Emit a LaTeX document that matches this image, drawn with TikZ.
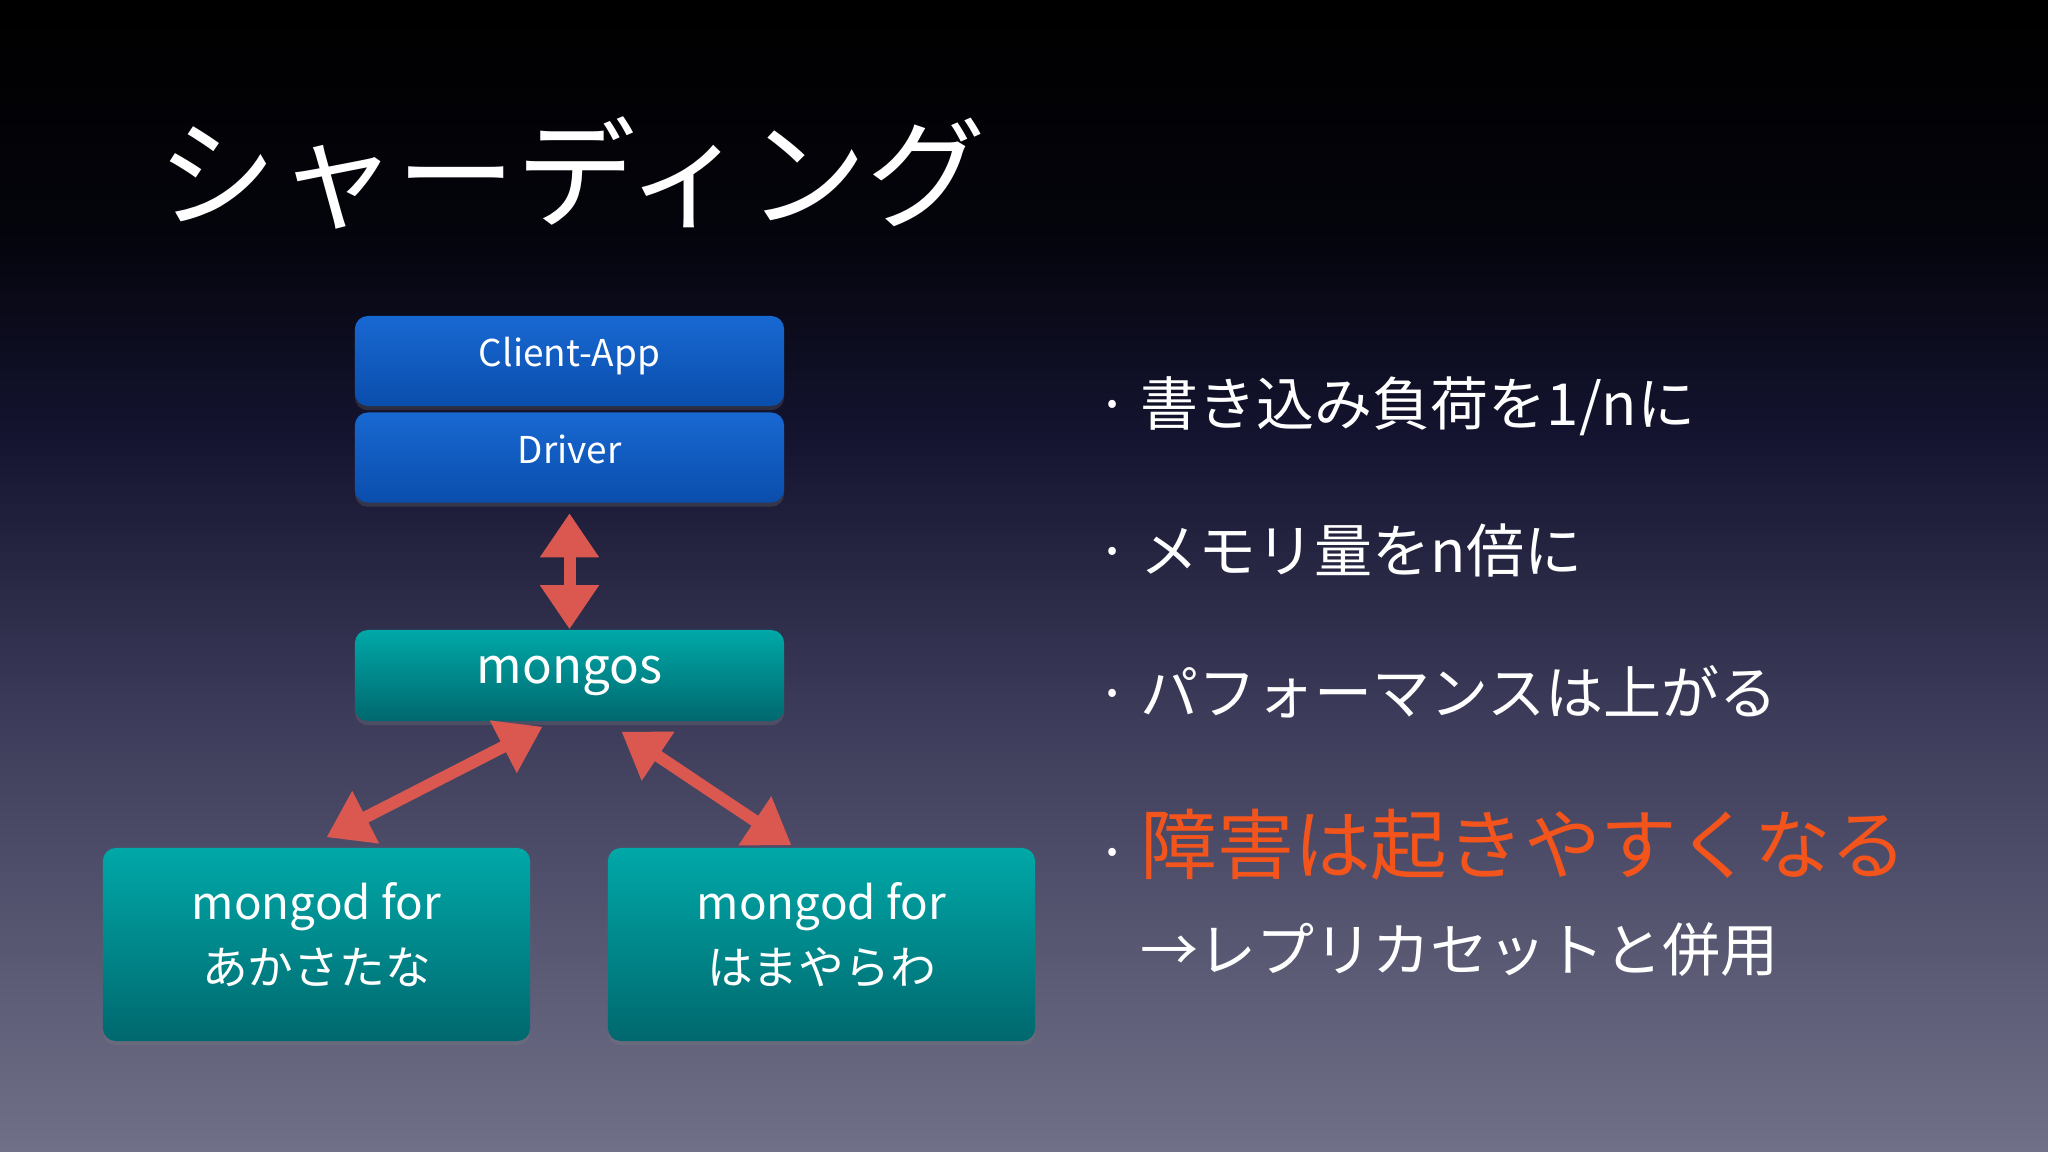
\documentclass[tikz,border=0pt]{standalone}
\usepackage{fontspec}
\setmainfont{Noto Sans CJK JP}
\usepackage{tikz}
\usetikzlibrary{arrows.meta, shadows}

\definecolor{bgbot}{RGB}{112,112,136}
\definecolor{bgmid}{RGB}{60,60,90}
\definecolor{bgnavy}{RGB}{20,20,48}
\definecolor{bgtop}{RGB}{4,4,12}
\definecolor{appblue}{RGB}{24,104,210}
\definecolor{appbluedark}{RGB}{10,78,172}
\definecolor{mongoteal}{RGB}{0,168,168}
\definecolor{mongotealdark}{RGB}{0,104,110}
\definecolor{linkred}{RGB}{218,88,80}
\definecolor{warnorange}{RGB}{242,84,28}

% the path is mapped onto 25bp..75bp of the shading
\pgfdeclareverticalshading{slidebg}{100bp}{color(0bp)=(bgbot); color(25bp)=(bgbot); color(44bp)=(bgmid); color(56bp)=(bgnavy); color(65bp)=(bgtop); color(75bp)=(black); color(100bp)=(black)}

\newcommand{\itemdot}{\llap{\color{white}\fontsize{16.5pt}{20pt}\selectfont ·\hskip 0.12cm}}

\begin{document}
\begin{tikzpicture}[x=0.01cm, y=-0.01cm,
  box/.style={rounded corners=0.13cm, minimum width=4.29cm, text=white, align=center, inner sep=0pt,
    drop shadow={shadow xshift=0pt, shadow yshift=-1.2pt, opacity=0.25}},
  clientbox/.style={box, top color=appblue, bottom color=appbluedark, minimum height=0.9cm, text depth=5pt,
    font=\fontsize{10.5pt}{13pt}\selectfont},
  routerbox/.style={box, top color=mongoteal, bottom color=mongotealdark, minimum height=0.91cm,
    font=\fontsize{14pt}{17pt}\selectfont},
  shardbox/.style={box, top color=mongoteal, bottom color=mongotealdark, minimum width=4.27cm, minimum height=1.93cm,
    text depth=6.5pt, font=\fontsize{13pt}{18.5pt}\selectfont},
  link/.style={draw=linkred, line width=0.12cm, {Triangle[length=0.44cm,width=0.56cm]}-{Triangle[length=0.44cm,width=0.56cm]}},
  itemtext/.style={anchor=west, inner sep=0pt, text=white, font=\fontsize{16.5pt}{20pt}\selectfont}]
% Slide background
\useasboundingbox (0,0) rectangle (2048,1152);
\shade[shading=slidebg] (0,0) rectangle (2048,1152);

% Title
\node[anchor=west, inner sep=0pt, text=white, font=\fontsize{34pt}{40pt}\selectfont] (title) at (157,173) {シャーディング};

% Client side
\node[clientbox] (client) at (569.5,361) {Client-App};
\node[clientbox] (driver) at (569.5,457.5) {Driver};

% Router and shards
\node[routerbox] (mongos) at (569.5,675.5) {mongos};
\node[shardbox] (shardA) at (316.5,944.5) {mongod for\\あかさたな};
\node[shardbox] (shardB) at (821.5,944.5) {mongod for\\はまやらわ};

% Connections
\draw[link] ([yshift=-0.1cm]driver.south) -- (mongos.north);
\draw[link] ([xshift=-0.27cm,yshift=-0.05cm]mongos.south) -- ([xshift=0.1cm,yshift=0.1cm]shardA.north);
\draw[link] ([xshift=0.52cm,yshift=-0.1cm]mongos.south) -- ([xshift=-0.3cm,yshift=0.02cm]shardB.north);

% Points
\node[itemtext] (write) at (1140,406) {\itemdot 書き込み負荷を1/nに};
\node[itemtext] (memory) at (1140,550) {\itemdot メモリ量をn倍に};
\node[itemtext] (perf) at (1140,692) {\itemdot パフォーマンスは上がる};
\node[itemtext, text=warnorange, font=\fontsize{21.8pt}{26pt}\selectfont] (fault) at (1140,845) {\itemdot 障害は起きやすくなる};
\node[itemtext] (replica) at (1140,950) {→レプリカセットと併用};
\end{tikzpicture}
\end{document}
